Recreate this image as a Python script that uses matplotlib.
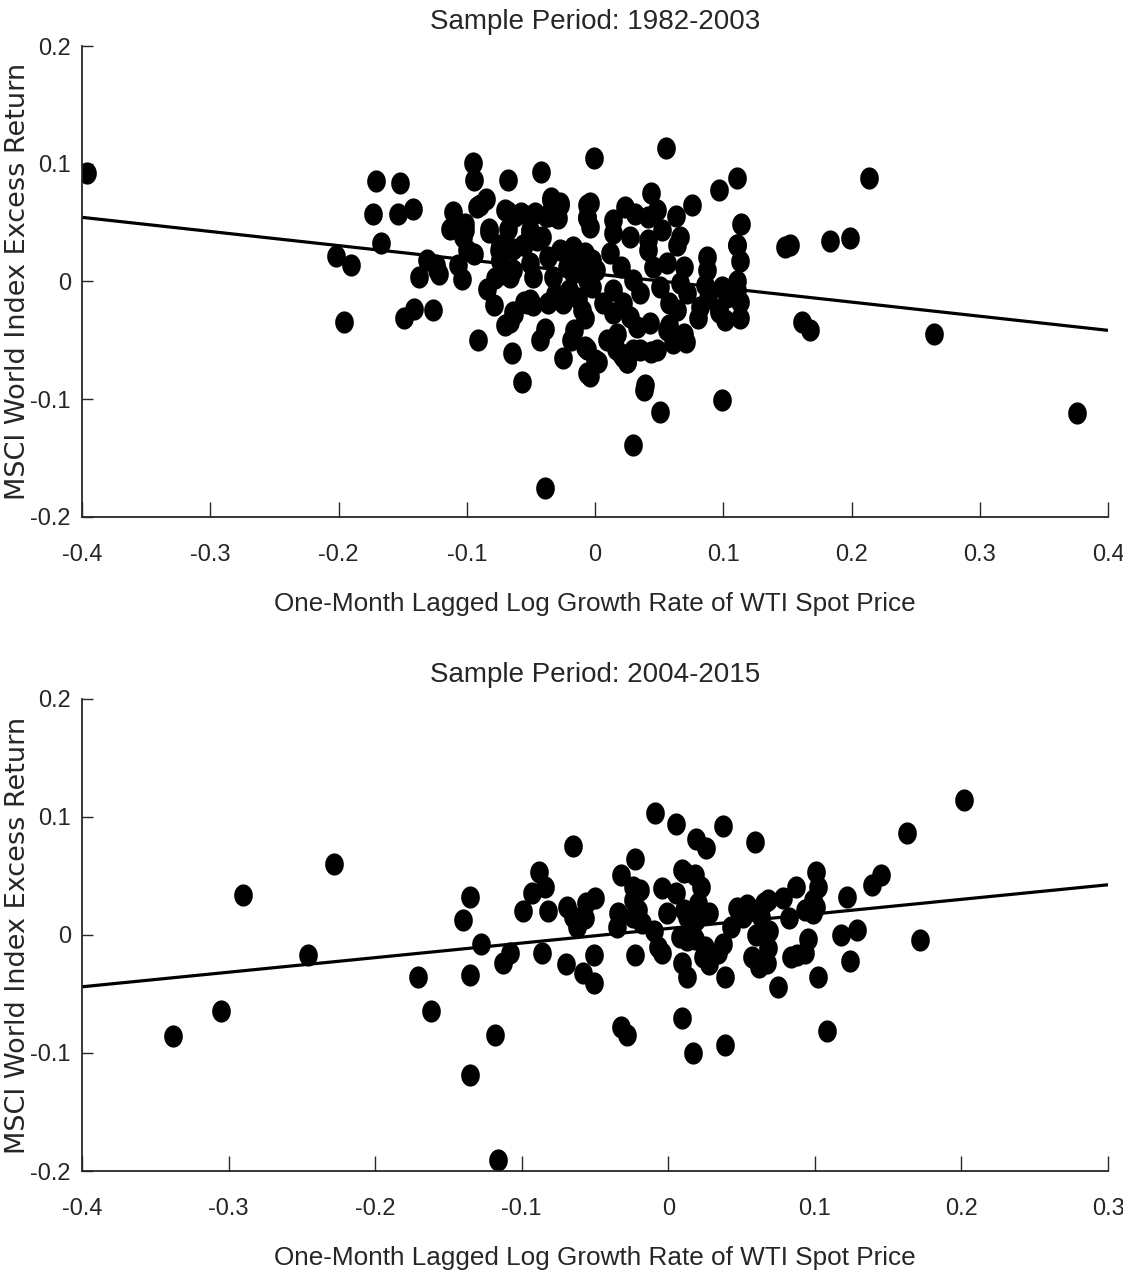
import numpy as np
import matplotlib
matplotlib.use("Agg")
import matplotlib.pyplot as plt
from matplotlib.path import Path

# Sample period 1982-2003: lagged WTI log growth vs MSCI world excess return
x1 = [-0.396, -0.202, -0.196, -0.190, -0.173, -0.171, -0.167, -0.154, -0.152, -0.149,
      -0.142, -0.141, -0.137, -0.131, -0.126, -0.124, -0.122, -0.111, -0.107, -0.104,
      -0.101, -0.101, -0.095, -0.094, -0.094, -0.091, -0.090, -0.085, -0.083, -0.079,
      -0.075, -0.074, -0.070, -0.068, -0.068, -0.065, -0.066, -0.063, -0.058, -0.057,
      -0.055, -0.055, -0.051, -0.051, -0.047, -0.042, -0.039, -0.039, -0.043, -0.038,
      -0.034, -0.031, -0.027, -0.025, -0.019, -0.013, -0.008, -0.004, -0.001, 0.002,
      0.009, 0.016, 0.020, 0.025, 0.030, 0.035, 0.039, 0.038, 0.044, 0.051,
      0.055, 0.058, 0.069, 0.071, 0.076, 0.080, 0.086, 0.088, 0.097, 0.097,
      0.099, 0.101, 0.111, 0.114, 0.111, 0.113, 0.111, 0.113, 0.113, 0.111,
      0.148, 0.152, 0.161, 0.168, 0.183, 0.199, 0.214, 0.264, 0.376,
      # dense cluster right of zero
      0.044, -0.004, 0.023, 0.063, -0.006, 0.014, 0.031, 0.041, 0.048, 0.052,
      0.066, 0.064, -0.004, 0.014, 0.027, 0.041, 0.111, 0.087, 0.012, 0.041,
      0.056, 0.069, 0.087, -0.010, 0.001, 0.020, 0.030, 0.045, 0.051, 0.066,
      0.072, 0.099, 0.103, -0.002, 0.014, 0.006, 0.022, 0.035, 0.058, 0.064,
      0.082, 0.097, -0.010, 0.014, 0.027, 0.043, 0.033, 0.056, 0.017, -0.008,
      0.061, 0.022, 0.030, 0.048, 0.000, -0.006, 0.025,
      # dense cluster left of zero
      -0.092, -0.113, -0.103, -0.083, -0.070, -0.062, -0.051, -0.037, -0.034, -0.027,
      -0.006, -0.068, -0.051, -0.041, -0.029, -0.006, -0.074, -0.064, -0.056, -0.045,
      -0.100, -0.074, -0.064, -0.051, -0.037, -0.027, -0.017, -0.008, -0.022, -0.012,
      -0.002, -0.066, -0.048, -0.033, -0.017, -0.006, -0.123, -0.078, -0.084, -0.064,
      -0.070, -0.053, -0.048, -0.037, -0.025, -0.020, -0.016, -0.006]
y1 = [0.092, 0.022, -0.034, 0.014, 0.057, 0.085, 0.033, 0.057, 0.084, -0.031,
      0.062, -0.023, 0.004, 0.018, -0.024, 0.014, 0.006, 0.059, 0.014, 0.002,
      0.044, 0.049, 0.101, 0.086, 0.023, -0.050, 0.065, 0.070, 0.042, -0.020,
      0.027, 0.017, 0.006, 0.086, 0.059, -0.061, -0.034, -0.028, 0.058, -0.085,
      0.031, -0.017, 0.044, -0.016, 0.058, 0.093, -0.175, -0.040, -0.050, 0.056,
      0.071, -0.011, 0.065, -0.065, -0.050, -0.014, -0.031, -0.080, 0.105, -0.068,
      -0.050, -0.057, -0.062, -0.068, -0.139, -0.058, -0.088, -0.092, -0.060, -0.111,
      0.113, -0.037, -0.045, -0.051, 0.065, -0.031, -0.003, -0.014, 0.078, -0.026,
      -0.101, -0.033, 0.088, 0.049, 0.031, 0.017, 0.000, -0.017, -0.031, -0.007,
      0.029, 0.031, -0.034, -0.041, 0.034, 0.037, 0.088, -0.045, -0.112,
      0.075, 0.067, 0.063, 0.056, 0.054, 0.052, 0.057, 0.055, 0.061, 0.044,
      0.038, 0.031, 0.046, 0.041, 0.038, 0.035, 0.031, 0.021, 0.024, 0.027,
      0.016, 0.012, 0.010, 0.016, 0.010, 0.012, 0.001, 0.012, -0.005, -0.001,
      -0.010, -0.005, -0.013, -0.005, -0.007, -0.018, -0.018, -0.010, -0.018, -0.024,
      -0.022, -0.024, -0.024, -0.027, -0.030, -0.035, -0.039, -0.041, -0.045, -0.056,
      -0.052, -0.064, -0.058, -0.058, -0.067, -0.078, -0.068,
      0.063, 0.045, 0.038, 0.045, 0.061, 0.056, 0.056, 0.056, 0.069, 0.067,
      0.065, 0.045, 0.042, 0.038, 0.054, 0.055, 0.031, 0.028, 0.031, 0.035,
      0.027, 0.018, 0.010, 0.016, 0.021, 0.027, 0.029, 0.024, 0.012, 0.016,
      0.018, 0.004, 0.004, 0.004, 0.007, 0.001, 0.010, 0.003, -0.006, -0.026,
      -0.037, -0.018, -0.020, -0.018, -0.018, -0.007, -0.041, -0.057]

# Sample period 2004-2015
x2 = [-0.338, -0.305, -0.290, -0.246, -0.228, -0.171, -0.162, -0.135, -0.140, -0.128,
      -0.135, -0.118, -0.135, -0.113, -0.108, -0.099, -0.093, -0.088, -0.084, -0.082,
      -0.086, -0.070, -0.065, -0.069, -0.065, -0.062, -0.058, -0.051, -0.051, -0.056,
      -0.050, -0.057, -0.032, -0.023, -0.034, -0.035, -0.032, -0.028, -0.023, -0.024,
      -0.019, -0.024, -0.021, -0.024, -0.018, -0.009, 0.005, 0.019, -0.004, 0.005,
      0.009, -0.010, -0.007, -0.004, -0.001, 0.008, 0.009, 0.013, 0.009, 0.017,
      0.013, 0.016, 0.026, 0.037, 0.059, 0.202, 0.163, 0.011, 0.018, 0.022,
      0.011, 0.020, 0.028, 0.019, 0.013, 0.018, 0.025, 0.024, 0.028, 0.034,
      0.037, 0.039, 0.039, 0.047, 0.054, 0.043, 0.051, 0.058, 0.065, 0.068,
      0.063, 0.060, 0.069, 0.057, 0.062, 0.067, 0.068, 0.075, 0.078, 0.082,
      0.087, 0.084, 0.088, 0.093, 0.101, 0.102, 0.099, 0.101, 0.093, 0.099,
      0.095, 0.102, 0.108, 0.122, 0.118, 0.129, 0.124, 0.139, 0.145, 0.172,
      -0.116]
y2 = [-0.086, -0.064, 0.034, -0.017, 0.060, -0.036, -0.064, 0.032, 0.013, -0.008,
      -0.034, -0.085, -0.119, -0.024, -0.015, 0.020, 0.036, 0.053, 0.041, 0.020,
      -0.015, -0.025, 0.075, 0.024, 0.015, 0.007, -0.032, -0.017, -0.041, 0.027,
      0.031, 0.014, 0.051, 0.064, 0.019, 0.007, -0.078, -0.085, -0.017, 0.041,
      0.038, 0.030, 0.021, 0.015, 0.010, 0.103, 0.094, 0.081, 0.040, 0.036,
      0.055, 0.003, -0.010, -0.015, 0.019, -0.002, -0.024, -0.036, -0.070, -0.100,
      0.015, 0.002, 0.074, 0.092, 0.079, 0.114, 0.086, 0.053, 0.051, 0.041,
      0.021, 0.027, 0.019, 0.013, -0.004, -0.003, -0.010, -0.019, -0.025, -0.015,
      -0.008, -0.036, -0.093, 0.023, 0.025, 0.007, 0.015, 0.021, 0.027, 0.030,
      0.015, 0.000, 0.003, -0.019, -0.027, -0.024, -0.011, -0.044, 0.031, 0.014,
      0.041, -0.019, -0.017, -0.015, 0.053, 0.041, 0.030, 0.024, 0.021, 0.019,
      -0.003, -0.036, -0.081, 0.032, 0.000, 0.004, -0.022, 0.042, 0.051, -0.004,
      -0.191]

# fitted regression lines (slope, intercept)
fit1 = (-0.120, 0.0065)
fit2 = (0.1235, 0.0055)

titles = ["Sample Period: 1982-2003", "Sample Period: 2004-2015"]
xlims = [(-0.4, 0.4), (-0.4, 0.3)]
xticks = [np.round(np.arange(-0.4, 0.41, 0.1), 1), np.round(np.arange(-0.4, 0.31, 0.1), 1)]
yticks = [-0.2, -0.1, 0, 0.1, 0.2]

txt_font = ['Liberation Sans', 'DejaVu Sans']

# slightly tall ellipse, like the stretched MATLAB dots
t = np.linspace(0, 2 * np.pi, 41)
ell = Path(np.column_stack([0.84 * np.cos(t), np.sin(t)]), closed=True)

fig = plt.figure(figsize=(11.23, 12.72), dpi=100)
ax1 = fig.add_axes([0.073, 0.5936, 0.9137, 0.3702])
ax2 = fig.add_axes([0.073, 0.0794, 0.9137, 0.3711])

for ax, xs, ys, fit, ttl, xl, xt in zip([ax1, ax2], [x1, x2], [y1, y2], [fit1, fit2],
                                         titles, xlims, xticks):
    ax.plot(xs, ys, linestyle='none', marker=ell, markersize=16,
            color='black', markeredgewidth=0)
    lx = np.array(xl)
    ax.plot(lx, fit[0] * lx + fit[1], color='black', lw=2.3)
    ax.set_xlim(xl)
    ax.set_ylim(-0.2, 0.2)
    ax.set_xticks(xt)
    ax.set_xticklabels(['0' if v == 0 else f'{v:g}' for v in xt])
    ax.set_yticks(yticks)
    ax.set_yticklabels(['0' if v == 0 else f'{v:g}' for v in yticks])
    for s in ['top', 'right']:
        ax.spines[s].set_visible(False)
    for s in ['left', 'bottom']:
        ax.spines[s].set_color('#262626')
        ax.spines[s].set_linewidth(1.3)
    ax.tick_params(axis='x', direction='in', length=10.5, width=1.0, color='#262626',
                   pad=19.5, labelsize=17, labelcolor='#262626')
    ax.tick_params(axis='y', direction='in', length=8, width=1.0, color='#262626',
                   pad=8, labelsize=17, labelcolor='#262626')
    for lab in ax.get_xticklabels() + ax.get_yticklabels():
        lab.set_family(txt_font)
    ax.set_title(ttl, fontsize=20, family=txt_font, color='#262626', pad=12)
    ax.set_xlabel('One-Month Lagged Log Growth Rate of WTI Spot Price', fontsize=18.8,
                  family=txt_font, color='#262626', labelpad=19)
    ax.set_ylabel('MSCI World Index Excess Return', fontsize=19.5,
                  family=['DejaVu Sans'], color='#262626')
    ax.yaxis.set_label_coords(-0.050, 0.5)

fig.savefig('out.png', dpi=100)
